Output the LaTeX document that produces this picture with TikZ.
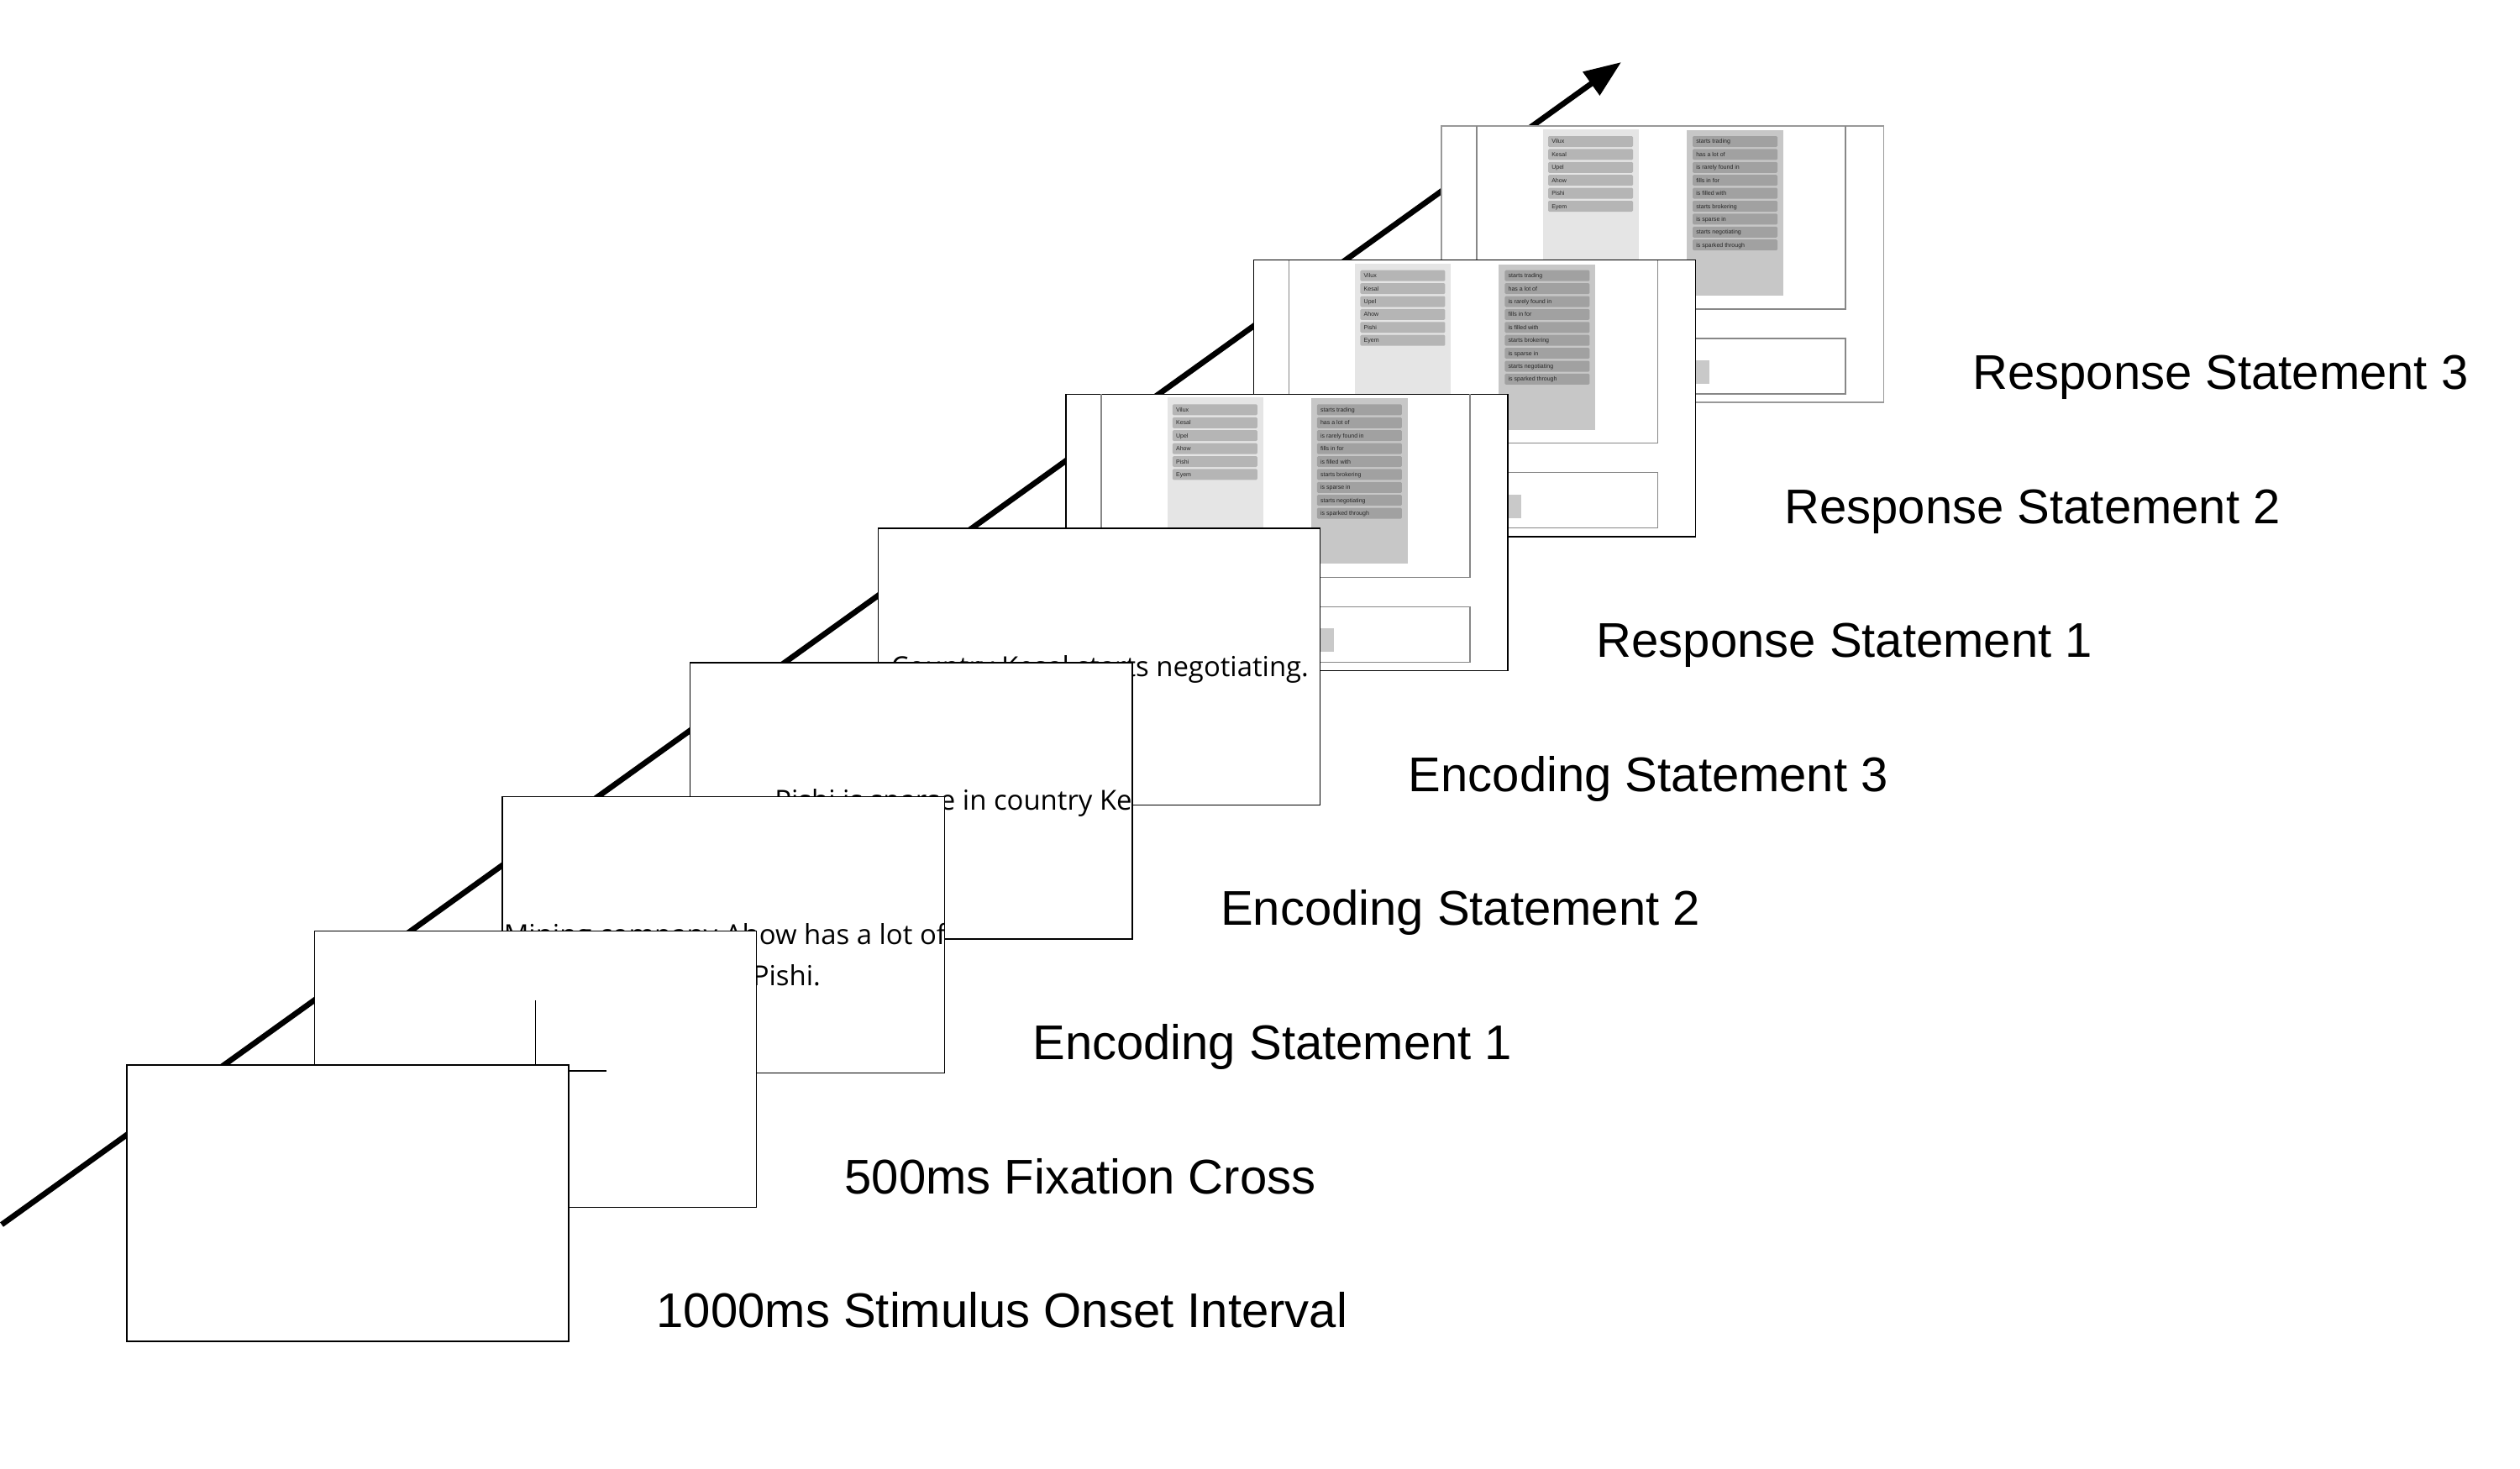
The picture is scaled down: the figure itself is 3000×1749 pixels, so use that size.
\documentclass[tikz,border=0pt]{standalone}
\usepackage{fontspec}
\setmainfont{Liberation Sans}
\newfontfamily\stimfont{Open Sans}
\usetikzlibrary{calc,arrows.meta,positioning}

\tikzset{
  screen/.style={draw=black, fill=white, line width=0.4pt, minimum width=5.26cm, minimum height=3.29cm, inner sep=0pt, outer sep=0pt},
  screenframe/.style={draw=black, line width=0.4pt},
  crossline/.style={draw=black, line width=0.45pt},
  steplabel/.style={anchor=base west, inner sep=0pt, font=\fontsize{16.5}{20}\selectfont},
  stimtext/.style={anchor=base west, inner sep=0pt, font=\stimfont\fontsize{9.35}{11}\selectfont},
  frameline/.style={draw=black!47, line width=0.4pt},
  namepanel/.style={fill=black!10},
  verbpanel/.style={fill=black!22},
  nameitem/.style={fill=black!29, rounded corners=0.4pt},
  verbitem/.style={fill=black!37, rounded corners=0.4pt},
  itemtext/.style={anchor=base west, inner sep=0pt, text=black!85, font=\fontsize{2}{2.4}\selectfont},
  timeline/.style={line width=1.9pt, -{Triangle[length=0.44cm,width=0.33cm]}}
}

% response screen: name, centre, border colour
\def\respscreen#1#2#3{
  \node[screen, draw=#3] (#1) at (#2) {};
  \draw[frameline] ($(#1.north west)+(42,0)$) |- ($(#1.north west)+(481,218)$) -- ($(#1.north west)+(481,0)$);
  \draw[frameline] ($(#1.north west)+(42,253)$) rectangle ($(#1.north west)+(481,319)$);
  \fill[black!21] ($(#1.north west)+(270,279)$) rectangle ($(#1.north west)+(319,307)$);
  \fill[namepanel] ($(#1.north west)+(121,4)$) rectangle ($(#1.north west)+(235,202)$);
  \fill[verbpanel] ($(#1.north west)+(292,5)$) rectangle ($(#1.north west)+(407,202)$);
  \foreach \w [count=\i from 0] in {Vilux,Kesal,Upel,Ahow,Pishi,Eyem}{
    \fill[nameitem] ($(#1.north west)+(127,12+15.4*\i)$) rectangle +(101,13);
    \node[itemtext] (#1-n\i) at ($(#1.north west)+(130.5,21+15.4*\i)$) {\w};
  }
  \foreach \w [count=\i from 0] in {starts trading,has a lot of,is rarely found in,fills in for,is filled with,starts brokering,is sparse in,starts negotiating,is sparked through}{
    \fill[verbitem] ($(#1.north west)+(299,12+15.4*\i)$) rectangle +(101,13);
    \node[itemtext] (#1-v\i) at ($(#1.north west)+(302.5,21+15.4*\i)$) {\w};
  }
}

\begin{document}
\begin{tikzpicture}[x=0.01cm, y=-0.01cm]
  \useasboundingbox (0,0) rectangle (3000,1749);

  % screen centres, one step per stage
  \foreach \k in {0,...,7}
    \coordinate (c\k) at (414+223.6*\k, 1432.5-159.7*\k);

  % time axis
  \coordinate (tstart) at (2,1458);
  \coordinate (tend) at (1930,74);
  \draw[timeline] (tstart) -- (tend);

  % screens, back to front
  \respscreen{resp3}{c7}{black!40}
  \respscreen{resp2}{c6}{black}
  \respscreen{resp1}{c5}{black}

  \node[screen] (enc3) at (c4) {};
  \begin{scope}
    \clip (enc3.north west) rectangle (enc3.south east);
    \node[stimtext] (enc3txt) at ($(enc3.north west)+(15,176)$) {Country Kesal starts negotiating.};
  \end{scope}
  \draw[screenframe] (enc3.north west) rectangle (enc3.south east);

  \node[screen] (enc2) at (c3) {};
  \begin{scope}
    \clip (enc2.north west) rectangle (enc2.south east);
    \node[stimtext] (enc2txt) at ($(enc2.north west)+(100,176)$) {Pishi is sparse in country Kesal.};
  \end{scope}
  \draw[screenframe] (enc2.north west) rectangle (enc2.south east);

  \node[screen] (enc1) at (c2) {};
  \begin{scope}
    \clip (enc1.north west) rectangle (enc1.south east);
    \node[stimtext] (enc1txt) at ($(enc1.north west)+(1,176)$) {Mining company Ahow has a lot of};
    \node[stimtext] (enc1end) at ($(enc1.north west)+(297,225)$) {Pishi.};
  \end{scope}
  \draw[screenframe] (enc1.north west) rectangle (enc1.south east);

  \node[screen] (fix) at (c1) {};
  \draw[crossline] ($(fix.center)+(-84,2)$) -- ($(fix.center)+(84,2)$);
  \draw[crossline] ($(fix.center)+(0,-82)$) -- ($(fix.center)+(0,86)$);

  \node[screen] (soi) at (c0) {};

  % stage labels
  \foreach \txt [count=\k from 0] in {1000ms Stimulus Onset Interval,500ms Fixation Cross,Encoding Statement 1,Encoding Statement 2,Encoding Statement 3,Response Statement 1,Response Statement 2,Response Statement 3}
    \node[steplabel] (lab\k) at (781+223.8*\k, 1580.7-159.6*\k) {\txt};
\end{tikzpicture}
\end{document}
